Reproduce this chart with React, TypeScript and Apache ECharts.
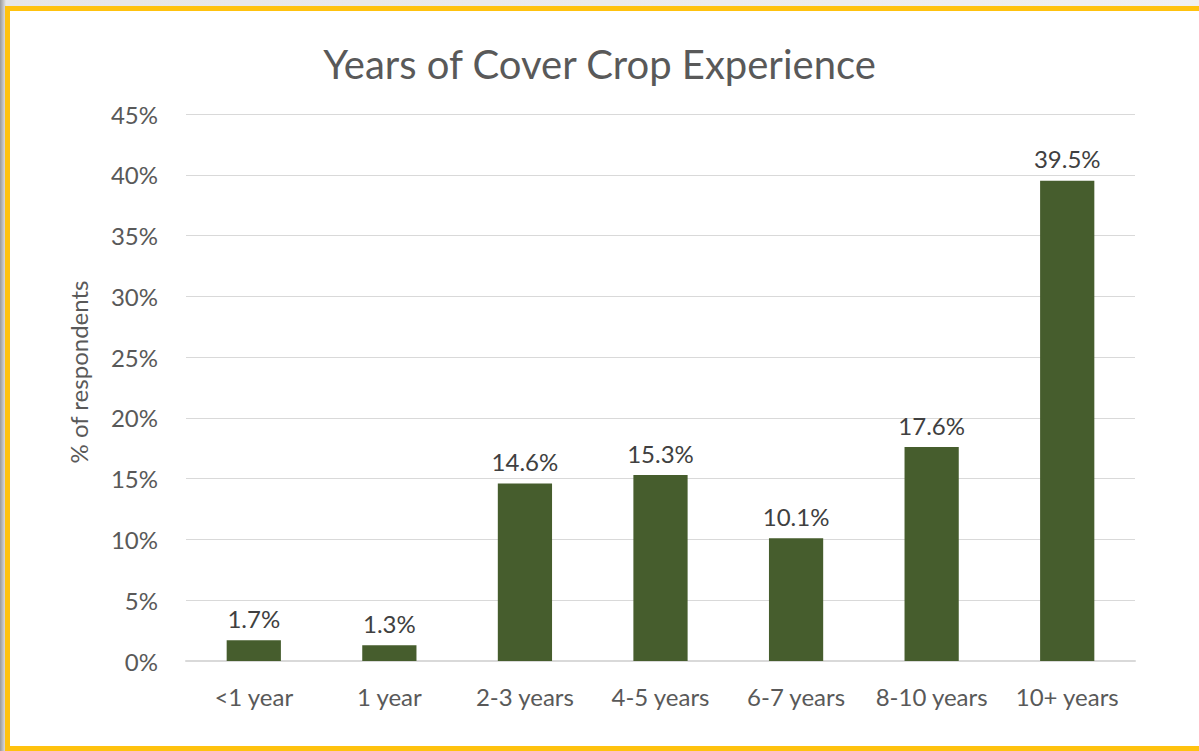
import React, { useEffect, useRef } from "react";
import * as echarts from "echarts";

const categories = ["<1 year", "1 year", "2-3 years", "4-5 years", "6-7 years", "8-10 years", "10+ years"];
const values = [1.7, 1.3, 14.6, 15.3, 10.1, 17.6, 39.5];
const yTicks = [0, 5, 10, 15, 20, 25, 30, 35, 40, 45];

const FONT = "Lato, 'Noto Sans', sans-serif";

export default function App() {
  const ref = useRef<HTMLDivElement>(null);
  useEffect(() => {
    if (!ref.current) return;
    const chart = echarts.init(ref.current, undefined, { renderer: "svg" });
    chart.setOption({
      animation: false,
      title: {
        text: "Years of Cover Crop Experience",
        left: "center",
        top: 39,
        textStyle: { fontFamily: FONT, fontSize: 40, fontWeight: "normal", color: "#595959" },
      },
      grid: { left: 186, right: 64, top: 114, bottom: 90 },
      graphic: [
        {
          type: "text",
          x: 78,
          y: 372,
          rotation: Math.PI / 2,
          style: {
            text: "% of respondents",
            fontFamily: FONT,
            fontSize: 24,
            fill: "#595959",
            align: "center",
            verticalAlign: "middle",
          },
        },
      ],
      xAxis: {
        type: "category",
        data: categories,
        axisLine: { lineStyle: { color: "#d9d9d9", width: 2 } },
        axisTick: { show: false },
        axisLabel: { interval: 0, hideOverlap: false, fontFamily: FONT, fontSize: 24, color: "#595959", margin: 23 },
      },
      yAxis: {
        type: "value",
        min: yTicks[0],
        max: yTicks[yTicks.length - 1],
        interval: 5,
        axisLine: { show: false },
        axisTick: { show: false },
        splitLine: { lineStyle: { color: "#d9d9d9", width: 1 } },
        axisLabel: { fontFamily: FONT, fontSize: 24, color: "#595959", margin: 28, formatter: "{value}%" },
      },
      series: [
        {
          type: "bar",
          data: values,
          barWidth: "40%",
          itemStyle: { color: "#465D2D" },
          label: {
            show: true,
            position: "top",
            distance: 10,
            fontFamily: FONT,
            fontSize: 24,
            color: "#404040",
            formatter: (p: any) => p.value.toFixed(1) + "%",
          },
        },
      ],
    });
    return () => chart.dispose();
  }, []);

  return (
    <div
      style={{
        position: "fixed",
        left: 0,
        top: 0,
        width: 1199,
        height: 751,
        background: "linear-gradient(to right, #9a9a9a 0px, #e6e6e6 6px, #f0f0f0 100%)",
        overflow: "hidden",
      }}
    >
      <div
        style={{
          position: "absolute",
          left: 5,
          top: 6,
          width: 1210,
          height: 745,
          boxSizing: "border-box",
          border: "5px solid #FFC20E",
          background: "#ffffff",
        }}
      />
      <div ref={ref} style={{ position: "absolute", left: 0, top: 0, width: 1199, height: 751 }} />
    </div>
  );
}
